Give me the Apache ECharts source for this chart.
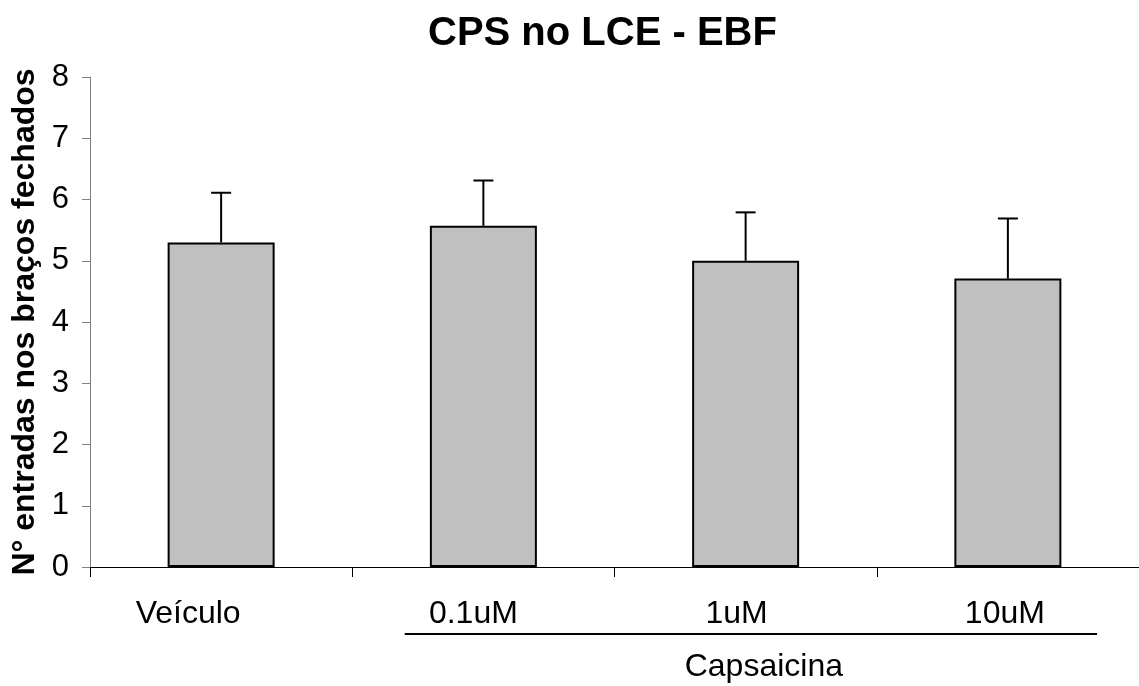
<!DOCTYPE html>
<html>
<head>
<meta charset="utf-8">
<script src="https://cdn.jsdelivr.net/npm/echarts@6/dist/echarts.min.js"></script>
<style>
html,body{margin:0;padding:0;background:#fff;}
#chart{width:1139px;height:686px;}
</style>
</head>
<body>
<div id="chart"></div>
<script>
var categories = ['Veículo', '0.1uM', '1uM', '10uM'];
var means = [5.3, 5.57, 5.0, 4.71];
var sems = [0.81, 0.74, 0.79, 0.98];
var yTicks = [0, 1, 2, 3, 4, 5, 6, 7, 8];
var titleText = 'CPS no LCE - EBF';
var yName = 'N° entradas nos braços fechados';
var groupLabel = 'Capsaicina';

var FONT = '"Liberation Sans", Arial, sans-serif';
var chart = echarts.init(document.getElementById('chart'));

var errData = means.map(function (m, i) { return [i, m, m + sems[i]]; });
// labels in the reference sit slightly left of the category centres
var labelShift = [66, 20, 18, 6];
var catData = categories.map(function (c, i) {
  return { value: c, textStyle: { padding: [0, labelShift[i], 0, 0] } };
});

var option = {
  animation: false,
  backgroundColor: '#ffffff',
  title: {
    text: titleText,
    left: 428,
    top: 14,
    padding: 0,
    textStyle: { fontFamily: FONT, fontWeight: 'bold', fontSize: 40, color: '#000' }
  },
  grid: { left: 90, top: 77, width: 1050, height: 490 },
  xAxis: {
    type: 'category',
    data: catData,
    axisLine: { lineStyle: { color: '#000', width: 1 } },
    axisTick: { show: true, alignWithLabel: false, length: 10, lineStyle: { color: '#000' } },
    axisLabel: { fontFamily: FONT, fontSize: 32, color: '#000', margin: 31 }
  },
  yAxis: {
    type: 'value',
    min: yTicks[0],
    max: yTicks[yTicks.length - 1],
    interval: 1,
    name: yName,
    nameLocation: 'middle',
    nameGap: 43,
    nameRotate: 90,
    nameTextStyle: { fontFamily: FONT, fontWeight: 'bold', fontSize: 32, color: '#000' },
    splitLine: { show: false },
    axisLine: { show: true, lineStyle: { color: '#808080', width: 1 } },
    axisTick: { show: true, inside: false, length: 8, lineStyle: { color: '#808080' } },
    axisLabel: { fontFamily: FONT, fontSize: 31, color: '#000', margin: 21 }
  },
  series: [
    {
      type: 'bar',
      data: means,
      barWidth: 107,
      itemStyle: { color: '#c0c0c0', borderColor: '#000', borderWidth: 2 },
      z: 2
    },
    {
      type: 'custom',
      data: errData,
      z: 3,
      renderItem: function (params, api) {
        var x = api.value(0);
        var lo = api.coord([x, api.value(1)]);
        var hi = api.coord([x, api.value(2)]);
        var half = 10;
        return {
          type: 'group',
          children: [
            { type: 'line', shape: { x1: lo[0], y1: lo[1], x2: hi[0], y2: hi[1] }, style: { stroke: '#000', lineWidth: 2 } },
            { type: 'line', shape: { x1: hi[0] - half, y1: hi[1], x2: hi[0] + half, y2: hi[1] }, style: { stroke: '#000', lineWidth: 2 } }
          ]
        };
      }
    }
  ]
};
chart.setOption(option);

// group bracket under the Capsaicina categories
var p1 = chart.convertToPixel({ xAxisIndex: 0 }, 1);
var p3 = chart.convertToPixel({ xAxisIndex: 0 }, 3);
var step = chart.convertToPixel({ xAxisIndex: 0 }, 2) - p1;
var x0 = p1 - step * 0.3;
var x1 = p3 + step * 0.34;
var y0 = chart.convertToPixel({ yAxisIndex: 0 }, 0);
chart.setOption({
  graphic: [
    { type: 'line', shape: { x1: x0, y1: y0 + 67, x2: x1, y2: y0 + 67 }, style: { stroke: '#000', lineWidth: 2 } },
    { type: 'text', x: (x0 + x1) / 2 + 13, y: y0 + 100, style: { text: groupLabel, font: '32px ' + FONT, fill: '#000', textAlign: 'center', textVerticalAlign: 'middle' } }
  ]
});
</script>
</body>
</html>
